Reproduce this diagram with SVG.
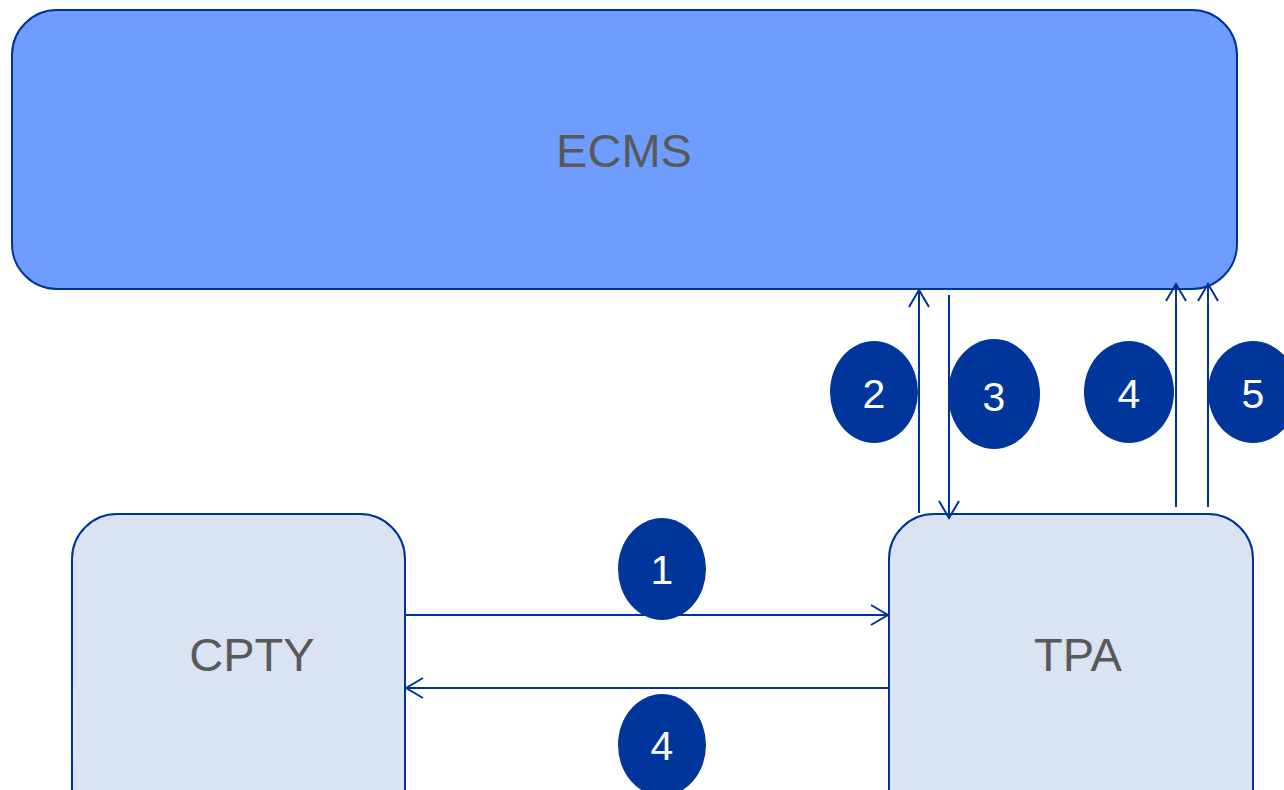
<svg xmlns="http://www.w3.org/2000/svg" width="1284" height="790" viewBox="0 0 1284 790">
<style>
.box{stroke:#003399;stroke-width:2}
.lbl{font-family:"Liberation Sans",Arial,sans-serif;font-size:47px;fill:#595959;text-anchor:middle}
.badge{fill:#00359c}
.num{font-family:"Liberation Sans",Arial,sans-serif;font-size:41px;fill:#ffffff;text-anchor:middle}
.conn{stroke:#003399;stroke-width:2;fill:none}
</style>
<defs>
<marker id="arr" viewBox="0 0 20 24" refX="18" refY="12" markerWidth="20" markerHeight="24" markerUnits="userSpaceOnUse" orient="auto">
<path d="M1,2 L18,12 L1,22" fill="none" stroke="#003399" stroke-width="2"/>
</marker>
</defs>
<rect width="1284" height="790" fill="#ffffff"/>
<g id="ecms">
<rect class="box" x="12" y="10" width="1225" height="279" rx="45" ry="45" fill="#6f9dff"/>
<text class="lbl" x="624" y="167">ECMS</text>
</g>
<g id="cpty">
<rect class="box" x="72" y="514" width="333" height="320" rx="45" ry="45" fill="#d9e3f2"/>
<text class="lbl" x="252" y="671">CPTY</text>
</g>
<g id="tpa">
<rect class="box" x="889" y="514" width="364" height="320" rx="45" ry="45" fill="#d9e3f2"/>
<text class="lbl" x="1078" y="671">TPA</text>
</g>
<g id="connectors">
<line class="conn" x1="405" y1="615" x2="888" y2="615" marker-end="url(#arr)"/>
<line class="conn" x1="889" y1="688" x2="406" y2="688" marker-end="url(#arr)"/>
<line class="conn" x1="919" y1="513" x2="919" y2="290" marker-end="url(#arr)"/>
<line class="conn" x1="949" y1="295" x2="949" y2="518" marker-end="url(#arr)"/>
<line class="conn" x1="1176" y1="507" x2="1176" y2="284" marker-end="url(#arr)"/>
<line class="conn" x1="1208" y1="507" x2="1208" y2="284" marker-end="url(#arr)"/>
</g>
<g id="badge1"><ellipse class="badge" cx="662" cy="569" rx="44" ry="51"/><text class="num" x="662" y="584">1</text></g>
<g id="badge4b"><ellipse class="badge" cx="662" cy="745" rx="44" ry="51"/><text class="num" x="662" y="760">4</text></g>
<g id="badge2"><ellipse class="badge" cx="874" cy="392" rx="44" ry="51"/><text class="num" x="874" y="408">2</text></g>
<g id="badge3"><ellipse class="badge" cx="994" cy="394" rx="46" ry="55"/><text class="num" x="994" y="411">3</text></g>
<g id="badge4"><ellipse class="badge" cx="1129" cy="392" rx="45" ry="51"/><text class="num" x="1129" y="408">4</text></g>
<g id="badge5"><ellipse class="badge" cx="1253" cy="392" rx="45" ry="51"/><text class="num" x="1253" y="408">5</text></g>
</svg>
